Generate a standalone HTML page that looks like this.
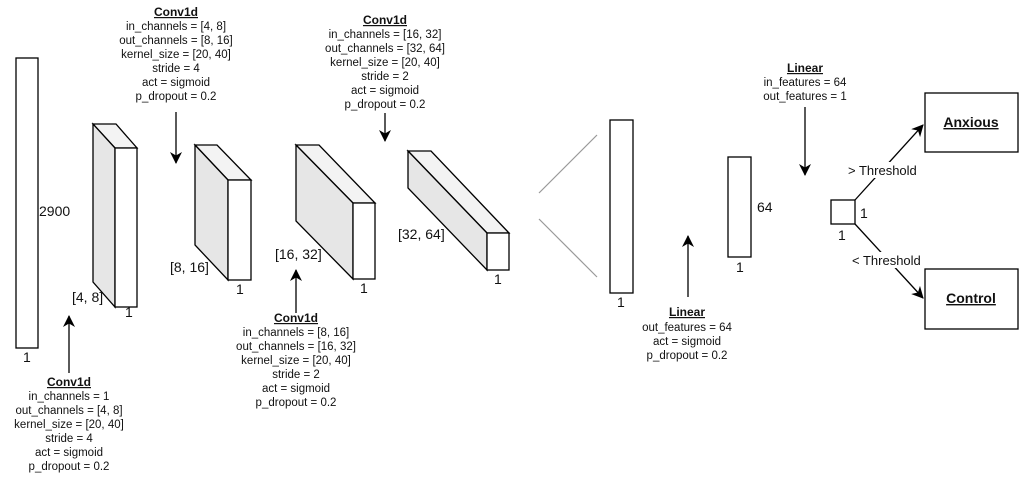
<!DOCTYPE html>
<html><head><meta charset="utf-8"><style>
html,body{margin:0;padding:0;background:#fff;}
svg{display:block;}
text{font-family:"Liberation Sans",sans-serif;fill:#111;}
.t{font-size:11.5px;text-anchor:middle;}
.h{font-size:12px;font-weight:bold;text-anchor:middle;text-decoration:underline;}
.d{font-size:14px;}
</style></head><body>
<svg width="1024" height="481" viewBox="0 0 1024 481" xmlns="http://www.w3.org/2000/svg">
<defs><marker id="a" markerWidth="14" markerHeight="14" refX="11" refY="6" orient="auto" markerUnits="userSpaceOnUse"><path d="M0,0 L12,6 L0,12 L3.5,6 z" fill="#000"/></marker></defs>
<g stroke="#000" stroke-width="1.3" fill="#fff">
<rect x="16" y="58" width="22" height="290"/>
<polygon points="93,124 116,124 137,148 115,148" fill="#f3f3f3"/>
<polygon points="93,124 115,148 115,307 93,282" fill="#e6e6e6"/>
<rect x="115" y="148" width="22" height="159"/>
<polygon points="195,145 217,145 251,180 228,180" fill="#f3f3f3"/>
<polygon points="195,145 228,180 228,280 195,245" fill="#e6e6e6"/>
<rect x="228" y="180" width="23" height="100"/>
<polygon points="296,145 319,145 375,203 353,203" fill="#f3f3f3"/>
<polygon points="296,145 353,203 353,279 296,221" fill="#e6e6e6"/>
<rect x="353" y="203" width="22" height="76"/>
<polygon points="408,151 431,151 509,233 487,233" fill="#f3f3f3"/>
<polygon points="408,151 487,233 487,270 408,188" fill="#e6e6e6"/>
<rect x="487" y="233" width="22" height="37"/>
<rect x="610" y="120" width="23" height="173"/>
<rect x="728" y="157" width="23" height="100"/>
<rect x="831" y="200" width="24" height="24"/>
<rect x="925" y="93" width="93" height="59"/>
<rect x="925" y="269" width="93" height="60"/>
</g>
<g stroke="#999" stroke-width="1.2">
<line x1="539" y1="193" x2="597" y2="135"/>
<line x1="539" y1="219" x2="597" y2="277"/>
</g>
<g stroke="#000" stroke-width="1.3" marker-end="url(#a)">
<line x1="69" y1="373" x2="69" y2="316"/>
<line x1="176" y1="112" x2="176" y2="163"/>
<line x1="296" y1="313" x2="296" y2="270"/>
<line x1="385" y1="113" x2="385" y2="141"/>
<line x1="688" y1="297" x2="688" y2="236"/>
<line x1="805" y1="107" x2="805" y2="175"/>
<line x1="855" y1="200" x2="923" y2="125"/>
<line x1="855" y1="224" x2="923" y2="298"/>
</g>
<rect x="846" y="162" width="78" height="16" fill="#fff"/>
<rect x="850" y="252" width="78" height="16" fill="#fff"/>
<text class="d" x="848" y="175" style="font-size:13px">&gt; Threshold</text>
<text class="d" x="852" y="265" style="font-size:13px">&lt; Threshold</text>
<text x="971" y="127" style="font-size:14px;font-weight:bold;text-anchor:middle;text-decoration:underline">Anxious</text>
<text x="971" y="303" style="font-size:14px;font-weight:bold;text-anchor:middle;text-decoration:underline">Control</text>
<text class="d" x="39" y="216">2900</text>
<text class="d" x="23" y="362">1</text>
<text class="d" x="72" y="302">[4, 8]</text>
<text class="d" x="125" y="317">1</text>
<text class="d" x="170" y="272">[8, 16]</text>
<text class="d" x="236" y="294">1</text>
<text class="d" x="275" y="259">[16, 32]</text>
<text class="d" x="360" y="293">1</text>
<text class="d" x="398" y="239">[32, 64]</text>
<text class="d" x="494" y="284">1</text>
<text class="d" x="617" y="307">1</text>
<text class="d" x="757" y="212">64</text>
<text class="d" x="736" y="272">1</text>
<text class="d" x="860" y="218">1</text>
<text class="d" x="838" y="240">1</text>
<g>
<text class="h" x="69" y="386">Conv1d</text>
<text class="t" x="69" y="400">in_channels = 1</text>
<text class="t" x="69" y="414">out_channels = [4, 8]</text>
<text class="t" x="69" y="428">kernel_size = [20, 40]</text>
<text class="t" x="69" y="442">stride = 4</text>
<text class="t" x="69" y="456">act = sigmoid</text>
<text class="t" x="69" y="470">p_dropout = 0.2</text>
</g>
<g>
<text class="h" x="176" y="16">Conv1d</text>
<text class="t" x="176" y="30">in_channels = [4, 8]</text>
<text class="t" x="176" y="44">out_channels = [8, 16]</text>
<text class="t" x="176" y="58">kernel_size = [20, 40]</text>
<text class="t" x="176" y="72">stride = 4</text>
<text class="t" x="176" y="86">act = sigmoid</text>
<text class="t" x="176" y="100">p_dropout = 0.2</text>
</g>
<g>
<text class="h" x="296" y="322">Conv1d</text>
<text class="t" x="296" y="336">in_channels = [8, 16]</text>
<text class="t" x="296" y="350">out_channels = [16, 32]</text>
<text class="t" x="296" y="364">kernel_size = [20, 40]</text>
<text class="t" x="296" y="378">stride = 2</text>
<text class="t" x="296" y="392">act = sigmoid</text>
<text class="t" x="296" y="406">p_dropout = 0.2</text>
</g>
<g>
<text class="h" x="385" y="24">Conv1d</text>
<text class="t" x="385" y="38">in_channels = [16, 32]</text>
<text class="t" x="385" y="52">out_channels = [32, 64]</text>
<text class="t" x="385" y="66">kernel_size = [20, 40]</text>
<text class="t" x="385" y="80">stride = 2</text>
<text class="t" x="385" y="94">act = sigmoid</text>
<text class="t" x="385" y="108">p_dropout = 0.2</text>
</g>
<g>
<text class="h" x="805" y="72">Linear</text>
<text class="t" x="805" y="86">in_features = 64</text>
<text class="t" x="805" y="100">out_features = 1</text>
</g>
<g>
<text class="h" x="687" y="316">Linear</text>
<text class="t" x="687" y="331">out_features = 64</text>
<text class="t" x="687" y="345">act = sigmoid</text>
<text class="t" x="687" y="359">p_dropout = 0.2</text>
</g>
</svg>
</body></html>
